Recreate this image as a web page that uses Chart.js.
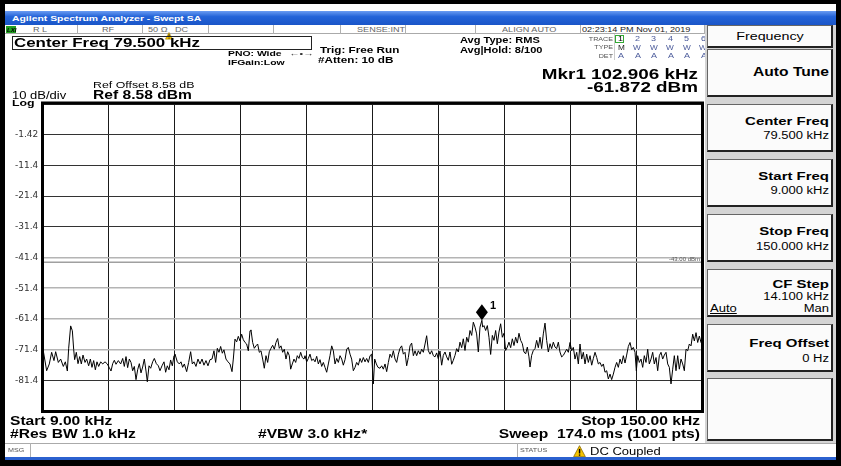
<!DOCTYPE html>
<html>
<head>
<meta charset="utf-8">
<title>Agilent Spectrum Analyzer - Swept SA</title>
<script src="https://cdn.jsdelivr.net/npm/chart.js@4.4.1/dist/chart.umd.min.js"></script>
<style>
  html, body { margin: 0; padding: 0; background: #fff; }
  #screen { position: relative; width: 841px; height: 466px; overflow: hidden; background: #fff;
            font-family: "Liberation Sans", Arial, sans-serif; }
  #chart { position: absolute; left: 0; top: 0; }
  .b { position: absolute; box-sizing: border-box; }
  .t { position: absolute; white-space: pre; line-height: 1; transform-origin: 0 0; }
</style>
</head>
<body>
<div id="screen">
  <canvas id="chart" width="841" height="466"></canvas>
</div>
<script>
// sweep settings
const startKHz = 9;
const stopKHz = 150;
const refDbm = 8.58;
const bottomDbm = -91.42;
const displayLineDbm = -43;
const markerKHz = 102.906;
const markerDbm = -61.872;
const markerId = '1';
const yTickLabels = ['', '-81.4', '-71.4', '-61.4', '-51.4', '-41.4', '-31.4', '-21.4', '-11.4', '-1.42', ''];

// trace 1, [kHz, dBm]
const trace = [
  [9.0,-71.3],[9.78,-78.3],[10.35,-76.1],[10.85,-72.3],[11.35,-75.0],[11.71,-72.1],[12.28,-75.6],[12.78,-74.5],
  [13.35,-76.9],[13.78,-75.4],[14.21,-78.4],[14.49,-71.0],[14.92,-63.7],[15.28,-65.3],[15.56,-71.3],[15.77,-74.7],
  [16.13,-72.3],[16.49,-76.0],[16.85,-73.7],[17.2,-76.1],[17.56,-73.2],[17.99,-75.6],[18.34,-74.5],[18.77,-76.7],
  [19.13,-74.5],[19.48,-77.2],[19.84,-75.0],[20.2,-78.0],[20.55,-75.4],[20.91,-76.9],[21.34,-75.4],[21.77,-76.1],
  [22.27,-75.4],[22.76,-76.1],[23.19,-77.3],[23.55,-78.4],[23.91,-76.0],[24.26,-74.9],[24.62,-76.2],[25.12,-75.0],
  [25.62,-76.1],[26.05,-74.3],[26.4,-76.9],[26.76,-73.7],[27.11,-77.3],[27.47,-74.5],[27.83,-75.6],[28.18,-78.3],
  [28.54,-76.9],[28.9,-81.2],[29.25,-78.0],[29.61,-76.0],[29.97,-79.0],[30.32,-77.1],[30.68,-74.5],[31.04,-78.4],
  [31.32,-81.9],[31.68,-76.7],[32.04,-77.5],[32.46,-75.4],[32.82,-74.3],[33.25,-76.0],[33.68,-76.7],[34.03,-78.3],
  [34.46,-76.7],[34.89,-75.4],[35.24,-78.8],[35.6,-76.7],[35.96,-78.0],[36.31,-74.8],[36.67,-76.7],[37.03,-73.4],
  [37.24,-72.9],[37.74,-75.4],[38.17,-76.1],[38.52,-75.4],[38.88,-77.2],[39.24,-76.1],[39.74,-78.6],[40.16,-75.6],
  [40.59,-72.1],[40.95,-76.1],[41.3,-75.4],[41.73,-76.9],[42.16,-74.5],[42.59,-76.1],[43.02,-74.5],[43.44,-76.5],
  [43.87,-75.0],[44.3,-76.7],[44.73,-74.7],[45.16,-74.5],[45.58,-71.8],[45.94,-75.6],[46.3,-71.0],[46.65,-72.3],
  [47.01,-70.4],[47.37,-72.6],[47.72,-71.5],[48.15,-74.5],[48.58,-75.4],[49.01,-76.1],[49.44,-78.6],[49.72,-74.5],
  [50.08,-68.0],[50.43,-68.9],[50.79,-67.1],[51.15,-68.6],[51.5,-66.4],[51.86,-68.2],[52.22,-69.1],[52.57,-69.6],
  [52.93,-71.8],[53.29,-65.3],[53.5,-65.0],[53.86,-69.1],[54.21,-71.0],[54.57,-70.2],[54.93,-69.6],[55.28,-72.3],
  [55.64,-71.8],[56.0,-74.5],[56.35,-77.5],[56.71,-73.4],[57.07,-75.6],[57.42,-72.1],[57.78,-71.0],[58.14,-70.0],
  [58.49,-71.3],[58.85,-69.1],[59.21,-67.8],[59.56,-71.0],[59.92,-70.2],[60.28,-72.3],[60.63,-71.3],[60.99,-74.5],
  [61.35,-72.1],[61.7,-73.4],[61.99,-77.8],[62.34,-76.1],[62.7,-74.5],[63.06,-75.6],[63.41,-73.4],[63.77,-74.3],
  [64.13,-72.3],[64.48,-74.0],[64.84,-74.5],
  [65.06,-73.4],[65.42,-75.4],[65.77,-74.3],[66.13,-72.9],[66.49,-75.0],[66.84,-74.5],[67.2,-75.4],[67.56,-73.6],
  [67.91,-76.1],[68.27,-74.7],[68.63,-76.9],[68.98,-75.6],[69.34,-77.2],[69.7,-78.8],[70.05,-76.1],[70.41,-73.4],
  [70.77,-70.2],[71.12,-71.8],[71.48,-76.1],[71.84,-74.3],[72.19,-75.6],[72.55,-73.4],[72.91,-74.5],[73.26,-76.5],
  [73.62,-74.7],[73.98,-71.3],[74.33,-70.7],[74.69,-72.9],[75.04,-74.5],[75.4,-78.3],[75.76,-77.2],[76.11,-75.6],
  [76.47,-76.5],[76.83,-74.3],[77.18,-75.6],[77.54,-74.0],[77.9,-75.4],[78.25,-74.3],[78.61,-75.6],[78.97,-73.4],
  [79.32,-72.9],[79.68,-82.6],[79.97,-74.5],[80.32,-76.1],[80.68,-77.2],[81.11,-77.5],[81.46,-76.7],[81.82,-77.8],
  [82.18,-76.1],[82.53,-78.6],[82.89,-75.6],[83.25,-72.9],[83.6,-74.0],[83.96,-71.8],[84.32,-74.5],[84.67,-75.6],
  [85.03,-72.9],[85.39,-71.0],[85.74,-70.2],[86.1,-72.9],[86.46,-72.3],[86.81,-76.7],[87.17,-74.0],[87.53,-70.2],
  [87.88,-69.3],[88.24,-73.4],[88.6,-71.8],[88.95,-73.4],[89.31,-71.8],[89.67,-72.9],[90.02,-71.3],[90.38,-72.3],
  [90.74,-69.6],[91.09,-66.9],[91.45,-71.8],[91.81,-72.9],[92.16,-71.8],[92.52,-73.4],
  [92.87,-73.8],[93.23,-72.5],[93.58,-74.4],[93.94,-71.9],[94.3,-76.5],[94.65,-73.3],[95.01,-72.2],[95.37,-73.8],
  [95.72,-74.9],[96.08,-72.2],[96.44,-76.2],[96.79,-74.9],[97.15,-73.3],[97.51,-71.1],[97.86,-72.2],[98.22,-69.0],
  [98.58,-70.8],[98.93,-67.9],[99.29,-71.7],[99.65,-67.4],[100.0,-69.0],[100.36,-65.2],[100.72,-66.8],[101.07,-62.5],
  [101.43,-64.1],[101.78,-66.3],[102.14,-72.2],[102.5,-64.1],[102.906,-61.872],[103.07,-64.1],[103.35,-63.6],[103.71,-65.2],
  [104.07,-63.6],[104.42,-67.4],[104.78,-73.0],[105.14,-66.8],[105.49,-68.4],[105.85,-65.2],[106.21,-69.5],[106.56,-65.7],
  [106.92,-63.0],[107.28,-67.4],[107.63,-66.1],[107.99,-71.7],[108.35,-70.6],[108.7,-69.0],[109.06,-70.8],[109.42,-67.9],
  [109.77,-70.1],[110.13,-67.4],[110.49,-69.3],[110.84,-66.1],[111.2,-68.4],[111.56,-69.5],[111.91,-72.2],[112.27,-72.8],
  [112.63,-70.6],[112.98,-73.8],[113.2,-77.1],[113.55,-73.3],[113.91,-71.7],[114.27,-71.1],[114.62,-68.4],[114.98,-70.8],
  [115.34,-67.4],[115.69,-71.1],[116.05,-66.3],[116.41,-62.8],[116.76,-68.4],[117.12,-72.2],[117.48,-69.5],[117.83,-71.1],
  [118.19,-69.0],[118.55,-70.6],[118.9,-71.1],[119.26,-69.0],[119.61,-72.2],[119.97,-73.8],[120.33,-73.3],
  [121.05,-71.3],[121.4,-72.3],[121.76,-69.1],[122.12,-71.8],[122.47,-70.7],[122.83,-74.5],[123.19,-72.3],[123.54,-76.1],
  [123.9,-69.6],[124.26,-74.5],[124.61,-72.3],[124.97,-76.1],[125.33,-72.9],[125.68,-75.6],[126.04,-73.4],[126.4,-76.5],
  [126.75,-74.3],[127.11,-72.3],[127.47,-74.0],[127.82,-76.1],[128.18,-75.6],[128.54,-76.9],[128.89,-76.1],[129.25,-78.8],
  [129.61,-78.3],[129.96,-81.0],[130.32,-79.4],[130.67,-81.2],[131.03,-79.4],[131.39,-77.2],[131.74,-75.6],[132.1,-77.2],
  [132.46,-74.5],[132.81,-76.1],[133.17,-73.4],[133.53,-75.8],[133.88,-73.2],[134.24,-70.4],[134.6,-69.1],[134.95,-71.5],
  [135.31,-70.7],[135.67,-72.3],[135.95,-78.3],[136.24,-73.4],[136.59,-75.6],[136.95,-74.5],[137.31,-77.2],[137.66,-73.4],
  [138.02,-75.6],[138.38,-71.3],[138.73,-76.1],[139.09,-74.5],[139.45,-72.3],[139.8,-76.1],[140.16,-74.0],[140.52,-78.3],
  [140.87,-73.4],[141.23,-72.3],[141.59,-74.5],[141.94,-73.2],[142.3,-72.3],[142.66,-76.1],[143.01,-77.2],[143.37,-82.6],
  [143.73,-77.8],[144.08,-73.4],[144.44,-78.3],[144.8,-73.4],[145.15,-77.8],[145.51,-74.5],[145.87,-76.1],[146.22,-78.3],
  [146.58,-71.3],[146.94,-71.8],[147.29,-69.6],[147.65,-70.2],[148.01,-66.4],[148.36,-68.6],[148.72,-65.9],[149.08,-69.1],
  [149.43,-67.0],[149.79,-69.1],[150.0,-68.5]
];

const screen = document.getElementById('screen');

function box(x, y, w, h, css) {
  const d = document.createElement('div');
  d.className = 'b';
  Object.assign(d.style, {left: x + 'px', top: y + 'px', width: w + 'px', height: h + 'px'}, css || {});
  screen.appendChild(d);
  return d;
}

// text is squeezed wide like the instrument screen grab
function label(s, x, base, size, o) {
  o = o || {};
  const d = document.createElement('div');
  d.className = 't';
  d.textContent = s;
  const sx = o.sx || 1.3;
  const shift = o.align === 'right' ? -100 : (o.align === 'center' ? -50 : 0);
  d.style.fontSize = size + 'px';
  d.style.fontWeight = o.bold ? 'bold' : 'normal';
  d.style.color = o.color || '#000';
  d.style.left = x + 'px';
  d.style.top = (base - 0.85 * size) + 'px';
  d.style.transform = 'scaleX(' + sx + ') translateX(' + shift + '%)';
  if (o.underline) d.style.textDecoration = 'underline';
  if (o.italic) d.style.fontStyle = 'italic';
  screen.appendChild(d);
  return d;
}

function warn(x, y, s) {
  const d = box(x, y, s, s);
  d.innerHTML = '<svg width="' + s + '" height="' + s + '" viewBox="0 0 20 20">' +
    '<path d="M10 1 L19 18 L1 18 Z" fill="#f5c400" stroke="#8a6a00" stroke-width="1.2"/>' +
    '<rect x="9" y="6" width="2.2" height="7" fill="#000"/><rect x="9" y="14.5" width="2.2" height="2" fill="#000"/></svg>';
}

// ---- window frame ----
box(0, 0, 841, 4, {background: '#000'});
box(0, 4, 5, 462, {background: '#000'});
box(836, 4, 5, 462, {background: '#000'});
box(0, 460, 841, 6, {background: '#000'});
box(5, 11, 831, 14, {background: 'linear-gradient(#6a9cf2, #2464d8 40%, #1a55c8)'});
label('Agilent Spectrum Analyzer - Swept SA', 12, 21.5, 8, {bold: true, color: '#fff'});

// status row
box(5, 25, 700, 9, {background: '#fff', borderBottom: '1px solid #aaa'});
[77, 142, 208, 273, 340, 405, 475, 580, 704].forEach(function (x) { box(x, 25, 1, 9, {background: '#b0b0b0'}); });
box(6, 26, 10, 7, {background: '#22a022'});
label('LXI', 7, 32.5, 6, {bold: true, italic: true, sx: 1});
label('R L', 33, 32, 7, {color: '#666'});
label('RF', 102, 32, 7, {color: '#666'});
label('50 Ω', 148, 32, 7, {color: '#666'});
warn(165, 25.5, 8);
label('DC', 175, 32, 7, {color: '#666'});
label('SENSE:INT', 357, 32, 7, {color: '#666'});
label('ALIGN AUTO', 502, 32, 7, {color: '#666'});
label('02:23:14 PM Nov 01, 2019', 582, 32, 7, {color: '#222'});

// settings text
box(12, 36, 300, 14, {border: '1px solid #222'});
label('Center Freq 79.500 kHz', 14, 47, 13, {bold: true});
label('PNO: Wide', 228, 57, 8, {bold: true});
label('\u2190\u2022\u2192', 289, 57, 8, {color: '#333'});
label('IFGain:Low', 228, 65.5, 8, {bold: true});
label('Trig: Free Run', 320, 54, 9, {bold: true});
label('#Atten: 10 dB', 318, 64, 9, {bold: true});
label('Avg Type: RMS', 460, 43.3, 8.5, {bold: true});
label('Avg|Hold: 8/100', 460, 53.3, 8.5, {bold: true});

// trace table
box(614, 34, 91, 26, {borderLeft: '1px solid #ccc'});
label('TRACE', 613, 41.5, 5.5, {color: '#555', align: 'right'});
label('TYPE', 613, 50, 5.5, {color: '#555', align: 'right'});
label('DET', 613, 58.5, 5.5, {color: '#555', align: 'right'});
box(615, 34.5, 9, 8.5, {border: '1px solid #3a3'});
for (let i = 0; i < 6; i++) {
  const cx = 618 + i * 16.5;
  label(String(i + 1), cx, 41.5, 7.5, {color: i === 0 ? '#000' : '#4a5a9a', sx: 1.2});
  label(i === 0 ? 'M' : 'W', cx - (i === 0 ? 0 : 1.5), 50, 7.5, {color: i === 0 ? '#222' : '#4a5a9a', sx: 1.1});
  label('A', cx, 58.5, 7.5, {color: '#4a5a9a', sx: 1.2});
}

label('Mkr1 102.906 kHz', 698, 79.3, 14.5, {bold: true, align: 'right'});
label('-61.872 dBm', 698, 92.7, 14.5, {bold: true, align: 'right'});
label('Ref Offset 8.58 dB', 93, 88.3, 9.5);
label('Ref 8.58 dBm', 93, 99.3, 12, {bold: true});
label('10 dB/div', 12, 99.3, 10);
label('Log', 12, 106.5, 9.5, {bold: true});

// bottom annotation
label('Start 9.00 kHz', 10, 425, 12, {bold: true});
label('#Res BW 1.0 kHz', 10, 438, 12, {bold: true});
label('#VBW 3.0 kHz*', 258, 438, 12, {bold: true});
label('Stop 150.00 kHz', 700, 425, 12, {bold: true, align: 'right'});
label('Sweep  174.0 ms (1001 pts)', 700, 438, 12, {bold: true, align: 'right'});

// message / status bar
box(5, 443, 831, 14, {background: '#fff', borderTop: '1px solid #aaa'});
box(30, 443, 1, 14, {background: '#b0b0b0'});
box(517, 443, 1, 14, {background: '#b0b0b0'});
label('MSG', 8, 453, 5.5, {color: '#555'});
label('STATUS', 520, 453, 5.5, {color: '#555'});
warn(573, 444, 13);
label('DC Coupled', 590, 455, 10);
box(5, 457, 831, 3, {background: '#2b61cf'});

// softkey panel
box(705, 25, 131, 418, {background: '#d4d4d4'});
function key(y, h) {
  box(707, y, 126, h, {background: '#fbfbfb', border: '1px solid #666', borderRight: '2px solid #222', borderBottom: '2px solid #222'});
}
key(25, 23);
label('Frequency', 770, 40.5, 11, {align: 'center'});
[49, 104, 159, 214, 269, 324].forEach(function (y) { key(y, 48); });
key(378, 63);
label('Auto Tune', 829, 76.5, 12, {bold: true, align: 'right'});
label('Center Freq', 829, 126, 11.5, {bold: true, align: 'right'});
label('79.500 kHz', 829, 139.5, 10, {align: 'right'});
label('Start Freq', 829, 181, 11.5, {bold: true, align: 'right'});
label('9.000 kHz', 829, 194.5, 10, {align: 'right'});
label('Stop Freq', 829, 236, 11.5, {bold: true, align: 'right'});
label('150.000 kHz', 829, 250, 10, {align: 'right'});
label('CF Step', 829, 289, 11.5, {bold: true, align: 'right'});
label('14.100 kHz', 829, 300.5, 10, {align: 'right'});
label('Auto', 710, 312, 10, {underline: true});
label('Man', 829, 312, 10, {align: 'right'});
label('Freq Offset', 829, 348, 11.5, {bold: true, align: 'right'});
label('0 Hz', 829, 362, 10, {align: 'right'});

// ---- the graticule and trace ----
const grayLines = [2, 3, 4, 5];

const overlay = {
  id: 'overlay',
  afterDatasetsDraw(chart) {
    const ctx = chart.ctx, a = chart.chartArea, x = chart.scales.x, y = chart.scales.y;
    ctx.save();
    ctx.strokeStyle = '#000';
    ctx.lineWidth = 3;
    ctx.strokeRect(a.left - 0.5, a.top - 1, a.right - a.left + 1, a.bottom - a.top + 1.5);

    const px = x.getPixelForValue(markerKHz), py = y.getPixelForValue(markerDbm);
    ctx.fillStyle = '#000';
    ctx.beginPath();
    ctx.moveTo(px, py);
    ctx.lineTo(px + 6, py - 8);
    ctx.lineTo(px, py - 16);
    ctx.lineTo(px - 6, py - 8);
    ctx.closePath();
    ctx.fill();
    ctx.font = 'bold 11px "Liberation Sans", Arial, sans-serif';
    ctx.fillText(markerId, px + 8, py - 11);

    ctx.font = '6px "Liberation Sans", Arial, sans-serif';
    ctx.fillStyle = '#555';
    ctx.textAlign = 'right';
    ctx.fillText(displayLineDbm.toFixed(2) + ' dBm', a.right - 2, y.getPixelForValue(displayLineDbm) - 1.5);
    ctx.restore();
  }
};

new Chart(document.getElementById('chart'), {
  type: 'line',
  data: {
    datasets: [
      {
        data: trace.map(function (p) { return {x: p[0], y: p[1]}; }),
        borderColor: '#000',
        borderWidth: 1,
        pointRadius: 0,
        tension: 0
      },
      {
        data: [{x: startKHz, y: displayLineDbm}, {x: stopKHz, y: displayLineDbm}],
        borderColor: '#a0a0a0',
        borderWidth: 1.5,
        pointRadius: 0
      }
    ]
  },
  options: {
    responsive: false,
    animation: false,
    devicePixelRatio: 1,
    layout: {padding: {left: 15, top: 104, right: 139, bottom: 55}},
    plugins: {legend: {display: false}, tooltip: {enabled: false}},
    scales: {
      x: {
        type: 'linear',
        min: startKHz,
        max: stopKHz,
        ticks: {display: false, stepSize: (stopKHz - startKHz) / 10},
        grid: {color: '#1a1a1a', lineWidth: 1, drawTicks: false},
        border: {display: false},
        afterFit: function (s) { s.height = 0; }
      },
      y: {
        min: bottomDbm,
        max: refDbm,
        ticks: {
          stepSize: 10,
          crossAlign: 'far',
          padding: 0,
          color: '#333',
          font: {family: 'DejaVu Sans', size: 9},
          callback: function (v, i) { return yTickLabels[i]; }
        },
        grid: {
          drawTicks: false,
          color: function (c) { return grayLines.includes(c.index) ? '#b4b4b4' : '#333'; },
          lineWidth: function (c) { return grayLines.includes(c.index) ? 1.6 : 1; }
        },
        border: {display: false},
        afterFit: function (s) { s.width = 28; }
      }
    }
  },
  plugins: [overlay]
});
</script>
</body>
</html>
